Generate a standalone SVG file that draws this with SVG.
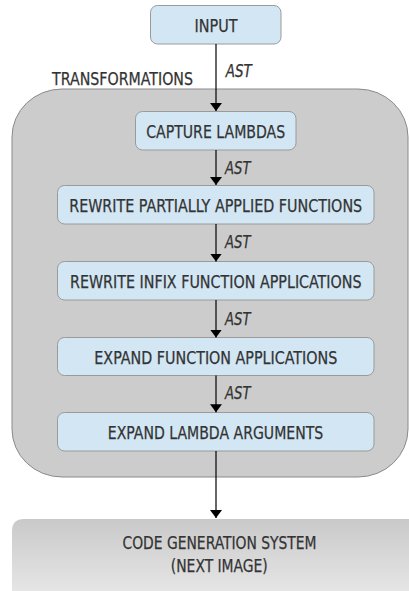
<svg xmlns="http://www.w3.org/2000/svg" width="409" height="591" viewBox="0 0 409 591">
<defs>
<style>
.node rect.b{fill:#d2e6f4;stroke:#9a9a9a;stroke-width:1}
text{font-family:"Liberation Sans Narrow","DejaVu Sans Condensed","Liberation Sans",sans-serif;font-size:18.5px;fill:#333333;stroke:#333333;stroke-width:0.25;text-anchor:middle}
text.lbl{font-style:italic;text-anchor:start}
.conn line{stroke:#000;stroke-width:1.2}
</style>
<marker id="ah" viewBox="0 0 8 12" refX="8" refY="6" markerWidth="8" markerHeight="12" markerUnits="userSpaceOnUse" orient="auto">
<path d="M0,0 L8,6 L0,12 Z" fill="#000"/>
</marker>
<linearGradient id="cg" x1="0" y1="0" x2="0" y2="1">
<stop offset="0" stop-color="#c9c9c9"/>
<stop offset="1" stop-color="#e9e9e9"/>
</linearGradient>
</defs>
<g id="transformations">
<rect x="12" y="89" width="396" height="388" rx="50" ry="48" fill="#cccccc" stroke="#8a8a8a" stroke-width="1"/>
<text x="52" y="85" textLength="141" lengthAdjust="spacingAndGlyphs" style="text-anchor:start">TRANSFORMATIONS</text>
</g>
<g id="codegen">
<path d="M12,600 L12,531 Q12,519 24,519 L420,519 L420,600 Z" fill="url(#cg)"/>
<text x="219.5" y="549.3" textLength="194" lengthAdjust="spacingAndGlyphs">CODE GENERATION SYSTEM</text>
<text x="219.3" y="571.7" textLength="97" lengthAdjust="spacingAndGlyphs">(NEXT IMAGE)</text>
</g>
<g id="input" class="node">
<rect class="b" x="150.5" y="5.5" width="130.5" height="38.5" rx="7"/>
<text x="216" y="31.5" textLength="43" lengthAdjust="spacingAndGlyphs">INPUT</text>
</g>
<g id="capture-lambdas" class="node">
<rect class="b" x="135.5" y="111.5" width="160.5" height="38.5" rx="7"/>
<text x="215.7" y="138.3" textLength="139" lengthAdjust="spacingAndGlyphs">CAPTURE LAMBDAS</text>
</g>
<g id="rewrite-partial" class="node">
<rect class="b" x="57.5" y="185.5" width="316.5" height="38.5" rx="7"/>
<text x="215.7" y="211.7" textLength="293" lengthAdjust="spacingAndGlyphs">REWRITE PARTIALLY APPLIED FUNCTIONS</text>
</g>
<g id="rewrite-infix" class="node">
<rect class="b" x="57.5" y="261.5" width="316.5" height="38.5" rx="7"/>
<text x="215.8" y="288.3" textLength="291.5" lengthAdjust="spacingAndGlyphs">REWRITE INFIX FUNCTION APPLICATIONS</text>
</g>
<g id="expand-function" class="node">
<rect class="b" x="57.5" y="337.5" width="316.5" height="38" rx="7"/>
<text x="215.8" y="364" textLength="243" lengthAdjust="spacingAndGlyphs">EXPAND FUNCTION APPLICATIONS</text>
</g>
<g id="expand-lambda" class="node">
<rect class="b" x="57.5" y="412.5" width="316.5" height="38.5" rx="7"/>
<text x="215.5" y="439.3" textLength="215.5" lengthAdjust="spacingAndGlyphs">EXPAND LAMBDA ARGUMENTS</text>
</g>
<g id="connectors" class="conn">
<line x1="216" y1="44" x2="216" y2="111" marker-end="url(#ah)"/>
<line x1="216" y1="150" x2="216" y2="185" marker-end="url(#ah)"/>
<line x1="216" y1="224" x2="216" y2="261.5" marker-end="url(#ah)"/>
<line x1="216" y1="300" x2="216" y2="337.5" marker-end="url(#ah)"/>
<line x1="216" y1="375.5" x2="216" y2="412.3" marker-end="url(#ah)"/>
<line x1="216" y1="451" x2="216" y2="518" marker-end="url(#ah)"/>
<text class="lbl" x="225.7" y="76.7" textLength="26" lengthAdjust="spacingAndGlyphs">AST</text>
<text class="lbl" x="225" y="174" textLength="25.5" lengthAdjust="spacingAndGlyphs">AST</text>
<text class="lbl" x="225" y="248.3" textLength="25.5" lengthAdjust="spacingAndGlyphs">AST</text>
<text class="lbl" x="225" y="325" textLength="25.5" lengthAdjust="spacingAndGlyphs">AST</text>
<text class="lbl" x="225" y="398.5" textLength="25.5" lengthAdjust="spacingAndGlyphs">AST</text>
</g>
</svg>
